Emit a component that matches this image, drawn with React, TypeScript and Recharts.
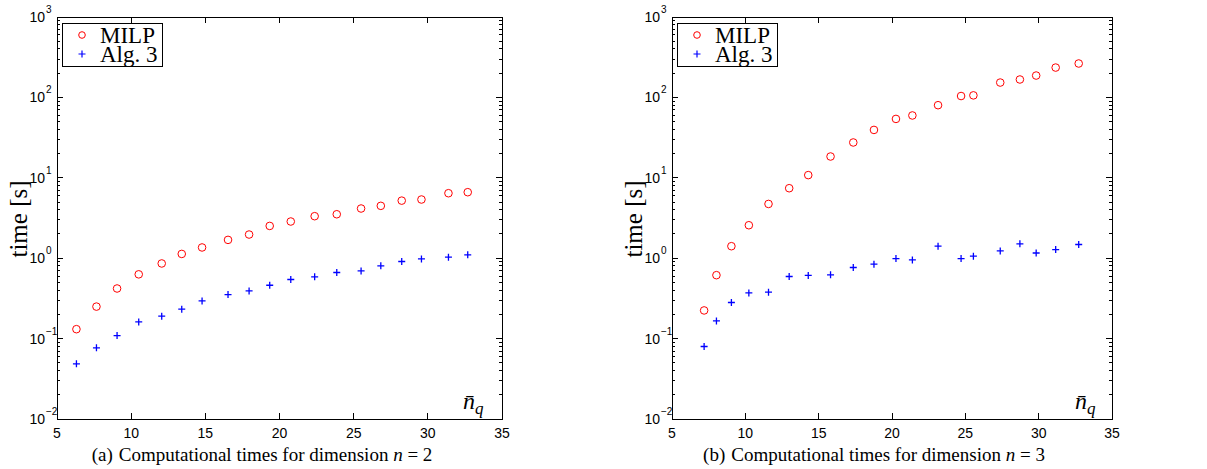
import { ScatterChart, Scatter, XAxis, YAxis, ReferenceArea, Legend } from 'recharts';

// n_q values (x) and computation times (s)
const N2_NQ = [6.31, 7.66, 9.05, 10.51, 12.06, 13.41, 14.78, 16.53, 17.95, 19.34, 20.76, 22.37, 23.86, 25.5, 26.83, 28.24, 29.57, 31.39, 32.69];
const N2_MILP = [0.131, 0.25, 0.42, 0.63, 0.86, 1.13, 1.36, 1.69, 1.97, 2.52, 2.86, 3.33, 3.52, 4.15, 4.48, 5.2, 5.37, 6.43, 6.62];
const N2_ALG3 = [0.0485, 0.0767, 0.109, 0.161, 0.19, 0.232, 0.294, 0.353, 0.392, 0.461, 0.543, 0.586, 0.664, 0.695, 0.803, 0.91, 0.98, 1.03, 1.1];

const N3_NQ = [7.19, 8.03, 9.05, 10.24, 11.58, 12.99, 14.29, 15.81, 17.36, 18.77, 20.27, 21.39, 23.14, 24.71, 25.55, 27.38, 28.72, 29.83, 31.16, 32.73];
const N3_MILP = [0.224, 0.615, 1.41, 2.57, 4.73, 7.42, 10.8, 18.4, 27.5, 39.4, 54, 59.6, 80, 104, 106, 153, 167, 187, 235, 264];
const N3_ALG3 = [0.0798, 0.166, 0.281, 0.37, 0.378, 0.592, 0.61, 0.621, 0.766, 0.842, 0.99, 0.953, 1.41, 0.99, 1.06, 1.23, 1.51, 1.16, 1.28, 1.48];

const SERIES_NAMES = ['MILP', 'Alg. 3'];
const X_TICKS = [5, 10, 15, 20, 25, 30, 35];
const Y_DECADES = [0.01, 0.1, 1, 10, 100, 1000];
const DECADE_EXPONENTS = ['\u22122', '\u22121', '0', '1', '2', '3'];
const MINOR_STEPS = [2, 3, 4, 5, 6, 7, 8, 9];
const Y_TICKS = [
  ...Y_DECADES,
  ...Y_DECADES.slice(0, -1).flatMap((d) => MINOR_STEPS.map((m) => d * m)),
];

const RED = '#ff0000';
const BLUE = '#0000ff';
const SANS = '"Liberation Sans", Arial, sans-serif';
const SERIF = '"Liberation Serif", "Times New Roman", serif';

const PLOT_TOP = 17;
const PLOT_BOTTOM = 419;
const HEIGHT = 469;

const circleShape = (props: any) => (
  <circle cx={props.cx} cy={props.cy} r={3.8} fill="none" stroke={RED} strokeWidth={1} />
);

const crossShape = (props: any) => (
  <path
    d={`M${props.cx - 3.5},${props.cy}H${props.cx + 3.5}M${props.cx},${props.cy - 3.5}V${props.cy + 3.5}`}
    stroke={BLUE}
    strokeWidth={1.3}
    fill="none"
  />
);

type PanelProps = {
  nq: number[];
  milp: number[];
  alg: number[];
  left: number;
  width: number;
  plotLeft: number;
  plotRight: number;
};

function Panel({ nq, milp, alg, left, width, plotLeft, plotRight }: PanelProps) {
  const milpData = nq.map((x, i) => ({ x, y: milp[i] }));
  const algData = nq.map((x, i) => ({ x, y: alg[i] }));

  const XTick = ({ x, payload }: any) => (
    <g>
      <line x1={x} x2={x} y1={PLOT_BOTTOM} y2={PLOT_BOTTOM - 6} stroke="#000" shapeRendering="crispEdges" />
      <line x1={x} x2={x} y1={PLOT_TOP} y2={PLOT_TOP + 6} stroke="#000" shapeRendering="crispEdges" />
      <text x={x} y={438} textAnchor="middle" fontFamily={SANS} fontSize={14} fill="#000">
        {payload.value}
      </text>
    </g>
  );

  const YTick = ({ y, payload }: any) => {
    const idx = Y_DECADES.indexOf(payload.value);
    const len = idx >= 0 ? 6 : 3;
    return (
      <g>
        <line x1={plotLeft} x2={plotLeft + len} y1={y} y2={y} stroke="#000" shapeRendering="crispEdges" />
        <line x1={plotRight} x2={plotRight - len} y1={y} y2={y} stroke="#000" shapeRendering="crispEdges" />
        {idx >= 0 && (
          <>
            <text x={plotLeft - 12} y={y + 5} textAnchor="end" fontFamily={SANS} fontSize={14} fill="#000">
              10
            </text>
            <text x={plotLeft - 11} y={y - 4} textAnchor="start" fontFamily={SANS} fontSize={10} fill="#000">
              {DECADE_EXPONENTS[idx]}
            </text>
          </>
        )}
      </g>
    );
  };

  const legendContent = (props: any) => {
    const items = [...(props.payload ?? [])].sort(
      (a: any, b: any) => SERIES_NAMES.indexOf(a.value) - SERIES_NAMES.indexOf(b.value),
    );
    return (
      <svg width={101} height={44} style={{ display: 'block' }}>
        <rect x={0.5} y={0.5} width={100} height={43} fill="#fff" stroke="#000" shapeRendering="crispEdges" />
        {items.map((entry: any, i: number) => {
          const cy = 12 + i * 19;
          return (
            <g key={`legend-${entry.value}`}>
              {entry.value === SERIES_NAMES[0] ? (
                <circle cx={20} cy={cy} r={3.3} fill="none" stroke={RED} />
              ) : (
                <path d={`M16.5,${cy}H23.5M20,${cy - 3.5}V${cy + 3.5}`} stroke={BLUE} strokeWidth={1.2} />
              )}
              <text x={38} y={20 + i * 19} fontFamily={SERIF} fontSize={23} fill="#000">
                {entry.value}
              </text>
            </g>
          );
        })}
      </svg>
    );
  };

  return (
    <div style={{ position: 'absolute', left, top: 0, width, height: HEIGHT }}>
      <ScatterChart
        width={width}
        height={HEIGHT}
        margin={{ top: PLOT_TOP, right: width - plotRight, bottom: HEIGHT - PLOT_BOTTOM - 30, left: 0 }}
      >
        <XAxis
          type="number"
          dataKey="x"
          domain={[5, 35]}
          ticks={X_TICKS}
          interval={0}
          axisLine={false}
          tickLine={false}
          height={30}
          tick={XTick}
          allowDataOverflow
        />
        <YAxis
          type="number"
          dataKey="y"
          scale="log"
          domain={[0.01, 1000]}
          ticks={Y_TICKS}
          interval={0}
          axisLine={false}
          tickLine={false}
          width={plotLeft}
          tick={YTick}
          allowDataOverflow
        />
        <ReferenceArea
          x1={5}
          x2={35}
          y1={0.01}
          y2={1000}
          fill="none"
          fillOpacity={0}
          stroke="#000"
          strokeOpacity={1}
          strokeWidth={1}
          shapeRendering="crispEdges"
        />
        <Legend
          layout="vertical"
          align="center"
          verticalAlign="middle"
          wrapperStyle={{ left: plotLeft + 5, top: 23, width: 101, height: 44 }}
          content={legendContent}
        />
        <Scatter name={SERIES_NAMES[0]} data={milpData} shape={circleShape} fill={RED} isAnimationActive={false} />
        <Scatter name={SERIES_NAMES[1]} data={algData} shape={crossShape} fill={BLUE} isAnimationActive={false} />
      </ScatterChart>
    </div>
  );
}

function NqLabel({ x }: { x: number }) {
  return (
    <text x={x} y={409} fontFamily={SERIF} fontSize={24} fontStyle="italic" fill="#000">
      {'n\u0304'}
      <tspan fontSize={17} dy={5}>q</tspan>
    </text>
  );
}

export default function App() {
  return (
    <div style={{ position: 'absolute', left: 0, top: 0, width: 1207, height: HEIGHT, background: '#fff' }}>
      <Panel nq={N2_NQ} milp={N2_MILP} alg={N2_ALG3} left={0} width={600} plotLeft={57} plotRight={502} />
      <Panel nq={N3_NQ} milp={N3_MILP} alg={N3_ALG3} left={600} width={607} plotLeft={72} plotRight={512} />
      <svg width={1207} height={HEIGHT} style={{ position: 'absolute', left: 0, top: 0, pointerEvents: 'none' }}>
        <text x={27} y={219} transform="rotate(-90 27 219)" textAnchor="middle" fontFamily={SERIF} fontSize={25} fill="#000">
          time [s]
        </text>
        <text x={642} y={219} transform="rotate(-90 642 219)" textAnchor="middle" fontFamily={SERIF} fontSize={25} fill="#000">
          time [s]
        </text>
        <NqLabel x={463} />
        <NqLabel x={1075} />
        <text x={262} y={461} textAnchor="middle" fontFamily={SERIF} fontSize={19} fill="#000">
          (a)<tspan dx={6}>Computational times for dimension </tspan>
          <tspan fontStyle="italic">n</tspan> = 2
        </text>
        <text x={874} y={461} textAnchor="middle" fontFamily={SERIF} fontSize={19} fill="#000">
          (b)<tspan dx={6}>Computational times for dimension </tspan>
          <tspan fontStyle="italic">n</tspan> = 3
        </text>
      </svg>
    </div>
  );
}
